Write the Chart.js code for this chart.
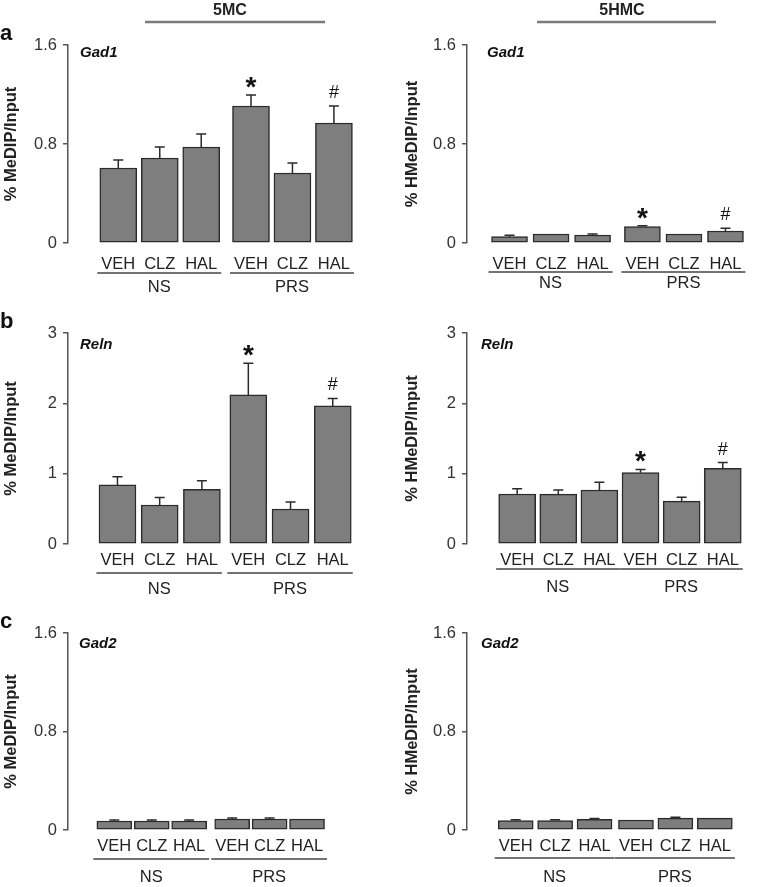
<!DOCTYPE html>
<html><head><meta charset="utf-8">
<script src="https://cdn.jsdelivr.net/npm/chart.js@4"></script>
<style>
html,body{margin:0;padding:0;background:#fff;}
#wrap{position:relative;width:772px;height:887px;overflow:hidden;}
canvas{position:absolute;}
</style></head><body><div id="wrap"></div>
<script>
// ---- data ----
const categories = ['VEH','CLZ','HAL','VEH','CLZ','HAL'];
const groupLabels = ['NS','PRS'];
const yTicksGad = [0, 0.8, 1.6];
const yTicksReln = [0, 1, 2, 3];

const gad1MC      = [0.606, 0.687, 0.776, 1.107, 0.566, 0.970];
const gad1MCErr   = [0.064, 0.089, 0.104, 0.089, 0.080, 0.137];
const gad1HMC     = [0.051, 0.073, 0.065, 0.132, 0.073, 0.097];
const gad1HMCErr  = [0.012, 0, 0.008, 0.008, 0, 0.022];
const relnMC      = [0.840, 0.555, 0.778, 2.120, 0.498, 1.963];
const relnMCErr   = [0.117, 0.105, 0.122, 0.450, 0.099, 0.107];
const relnHMC     = [0.711, 0.710, 0.768, 1.014, 0.610, 1.077];
const relnHMCErr  = [0.076, 0.058, 0.109, 0.046, 0.054, 0.080];
const gad2MC      = [0.073, 0.073, 0.073, 0.089, 0.089, 0.089];
const gad2MCErr   = [0.008, 0.008, 0.008, 0.008, 0.008, 0];
const gad2HMC     = [0.076, 0.076, 0.087, 0.081, 0.097, 0.097];
const gad2HMCErr  = [0.008, 0.008, 0.006, 0, 0.006, 0];

const marksSig  = ['', '', '', '*', '', '#'];
const marksNone = ['', '', '', '', '', ''];

// ---- layout / style ----
const FONT = '"Liberation Sans", Arial, Helvetica, sans-serif';
const TXT = '#222';

const panels = [
  {gene:'Gad1', yTitle:'% MeDIP/Input', vals:gad1MC, errs:gad1MCErr, ticks:yTicksGad, marks:marksSig,
   left:0, width:390, top:0, height:300, axisX:68, areaTop:45, areaBottom:243, areaRight:378,
   gap:0.2, xMin:-0.59, xMax:5.64, barW:37, off:[21,30,44], geneDx:12, geneDy:12,
   letter:'a', header:{text:'5MC', x:230, x1:145, x2:325}},
  {gene:'Gad1', yTitle:'% HMeDIP/Input', vals:gad1HMC, errs:gad1HMCErr, ticks:yTicksGad, marks:marksSig,
   left:401, width:371, top:0, height:300, axisX:467, areaTop:45, areaBottom:243, areaRight:768,
   gap:0.2, xMin:-0.42, xMax:5.62, barW:36, off:[21,29,40.5], geneDx:20, geneDy:12,
   header:{text:'5HMC', x:622, x1:537, x2:716}},
  {gene:'Reln', yTitle:'% MeDIP/Input', vals:relnMC, errs:relnMCErr, ticks:yTicksReln, marks:marksSig,
   left:0, width:390, top:300, height:300, axisX:68, areaTop:333, areaBottom:544, areaRight:378,
   gap:0.1, xMin:-0.56, xMax:5.56, barW:37, off:[16,29,45], geneDx:12, geneDy:16, letter:'b'},
  {gene:'Reln', yTitle:'% HMeDIP/Input', vals:relnHMC, errs:relnHMCErr, ticks:yTicksReln, marks:marksSig,
   left:401, width:371, top:300, height:300, axisX:467, areaTop:333, areaBottom:544, areaRight:768,
   gap:0, xMin:-0.61, xMax:5.49, barW:37, off:[16,25,43], geneDx:14, geneDy:16},
  {gene:'Gad2', yTitle:'% MeDIP/Input', vals:gad2MC, errs:gad2MCErr, ticks:yTicksGad, marks:marksNone,
   left:0, width:390, top:600, height:287, axisX:68, areaTop:633, areaBottom:830, areaRight:350,
   gap:0.15, xMin:-0.61, xMax:5.67, barW:35, off:[16.5,29,47.5], geneDx:11, geneDy:15, letter:'c'},
  {gene:'Gad2', yTitle:'% HMeDIP/Input', vals:gad2HMC, errs:gad2HMCErr, ticks:yTicksGad, marks:marksNone,
   left:401, width:371, top:600, height:287, axisX:467, areaTop:633, areaBottom:830, areaRight:758,
   gap:0.05, xMin:-0.62, xMax:5.53, barW:35, off:[16.7,28,47.5], geneDx:14, geneDy:15}
];

const decor = {
  id: 'decor',
  afterDatasetsDraw(chart) {
    const p = chart.options.plugins.decor.panel;
    const ctx = chart.ctx;
    const meta = chart.getDatasetMeta(0);
    const ys = chart.scales.y;
    ctx.save();
    ctx.strokeStyle = '#2b2b2b';
    ctx.lineWidth = 1.5;
    p.vals.forEach((v, i) => {
      const e = p.errs[i];
      if (!e) return;
      const bx = meta.data[i].x;
      const y0 = ys.getPixelForValue(v), y1 = ys.getPixelForValue(v + e);
      ctx.beginPath();
      ctx.moveTo(bx, y0); ctx.lineTo(bx, y1);
      ctx.moveTo(bx - 5, y1); ctx.lineTo(bx + 5, y1);
      ctx.stroke();
    });
    ctx.fillStyle = '#111';
    ctx.textAlign = 'center';
    ctx.textBaseline = 'alphabetic';
    p.marks.forEach((m, i) => {
      if (!m) return;
      const bx = meta.data[i].x;
      const top = ys.getPixelForValue(p.vals[i] + p.errs[i]);
      if (m === '*') { ctx.font = 'bold 28px ' + FONT; ctx.fillText('*', bx, top + 1); }
      else { ctx.font = '18px ' + FONT; ctx.fillText('#', bx, top - 8); }
    });
    ctx.restore();
  },
  afterDraw(chart) {
    const p = chart.options.plugins.decor.panel;
    const ctx = chart.ctx;
    const meta = chart.getDatasetMeta(0);
    const ys = chart.scales.y;
    const area = chart.chartArea;
    const y0 = ys.getPixelForValue(0);
    ctx.save();
    ctx.fillStyle = TXT;
    ctx.textAlign = 'center';
    ctx.textBaseline = 'middle';
    ctx.font = '16.5px ' + FONT;
    categories.forEach((c, i) => ctx.fillText(c, meta.data[i].x, y0 + p.off[0]));
    ctx.strokeStyle = '#444';
    ctx.lineWidth = 1.5;
    groupLabels.forEach((g, gi) => {
      const a = meta.data[gi * 3].x - 21, b = meta.data[gi * 3 + 2].x + 20;
      ctx.beginPath(); ctx.moveTo(a, y0 + p.off[1]); ctx.lineTo(b, y0 + p.off[1]); ctx.stroke();
      ctx.fillText(g, (a + b) / 2, y0 + p.off[2]);
    });
    // gene label
    ctx.textAlign = 'left';
    ctx.textBaseline = 'alphabetic';
    ctx.font = 'italic bold 15px ' + FONT;
    ctx.fillStyle = '#111';
    ctx.fillText(p.gene, area.left + p.geneDx, area.top + p.geneDy);
    // panel letter
    if (p.letter) {
      ctx.font = 'bold 22px ' + FONT;
      ctx.fillText(p.letter, 0, area.top - 5);
    }
    // header
    if (p.header) {
      const h = p.header, L = p.left;
      ctx.font = 'bold 16px ' + FONT;
      ctx.textAlign = 'center';
      ctx.fillStyle = '#222';
      ctx.fillText(h.text, h.x - L, 15);
      ctx.strokeStyle = '#7a7a7a';
      ctx.lineWidth = 2.5;
      ctx.beginPath(); ctx.moveTo(h.x1 - L, 22); ctx.lineTo(h.x2 - L, 22); ctx.stroke();
    }
    ctx.restore();
  }
};

const wrap = document.getElementById('wrap');
panels.forEach(p => {
  const cv = document.createElement('canvas');
  cv.width = p.width; cv.height = p.height;
  cv.style.left = p.left + 'px'; cv.style.top = p.top + 'px';
  cv.style.width = p.width + 'px'; cv.style.height = p.height + 'px';
  wrap.appendChild(cv);
  const xs = categories.map((c, i) => i + (i >= 3 ? p.gap : 0));
  new Chart(cv, {
    type: 'bar',
    data: {
      datasets: [{
        data: p.vals.map((v, i) => ({x: xs[i], y: v})),
        backgroundColor: '#7e7e7e',
        borderColor: '#2b2b2b',
        borderWidth: 1.5,
        borderSkipped: false,
        barThickness: p.barW
      }]
    },
    options: {
      responsive: false,
      animation: false,
      devicePixelRatio: 1,
      layout: {padding: {left: 0, top: p.areaTop - p.top, bottom: p.top + p.height - p.areaBottom, right: p.left + p.width - p.areaRight}},
      plugins: {legend: {display: false}, tooltip: {enabled: false}, decor: {panel: p}},
      scales: {
        x: {type: 'linear', min: p.xMin, max: p.xMax, display: false},
        y: {
          min: 0, max: p.ticks[p.ticks.length - 1],
          afterBuildTicks: s => { s.ticks = p.ticks.map(v => ({value: v})); },
          afterFit: s => { s.width = p.axisX - p.left; },
          ticks: {color: '#333', font: {family: FONT, size: 16.5}, padding: 6,
                  callback: v => String(v)},
          grid: {drawOnChartArea: false, drawTicks: true, tickLength: 5, color: '#555', lineWidth: 1.5},
          border: {display: true, color: '#555', width: 1.5},
          title: {display: true, text: p.yTitle, color: '#222', padding: {top: 2, bottom: 0},
                  font: {family: FONT, size: 16.5, weight: 'bold'}}
        }
      }
    },
    plugins: [decor]
  });
});
</script>
</body></html>
